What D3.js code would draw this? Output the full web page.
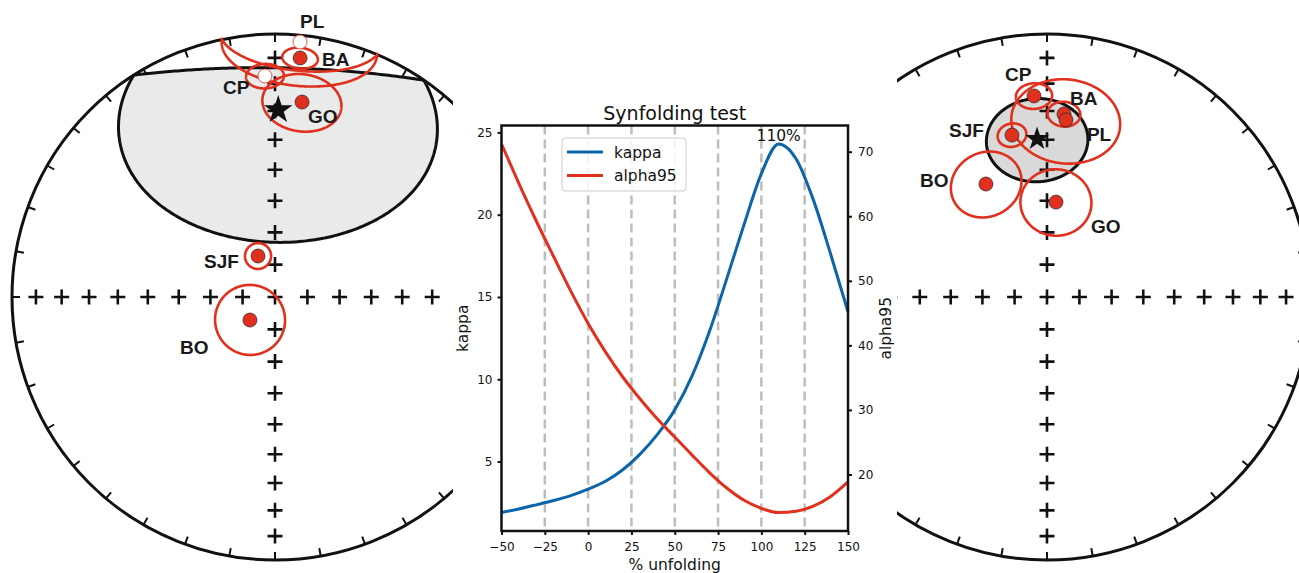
<!DOCTYPE html>
<html>
<head>
<meta charset="utf-8">
<script src="https://cdn.jsdelivr.net/npm/d3@7"></script>
<style>
  body { margin: 0; background: #fff; }
  svg { display: block; }
</style>
</head>
<body>
<svg id="fig" width="1299" height="573"></svg>
<script>
// ---- synfolding test curve ----
var unfolding = [-50, -40, -30, -20, -10, 0, 10, 20, 30, 40, 50, 60, 70, 80, 90, 100, 110, 120, 130, 140, 150];
var kappa = [1.9, 2.12, 2.37, 2.63, 2.93, 3.32, 3.8, 4.5, 5.45, 6.65, 8.14, 10.2, 12.9, 16.1, 19.4, 22.5, 24.3, 23.4, 20.9, 17.6, 14.1];
var alpha95 = [71.2, 65.1, 59.3, 53.8, 48.4, 43.4, 39.0, 35.1, 31.7, 28.6, 25.8, 23.0, 20.3, 17.9, 16.0, 14.75, 14.1, 14.3, 15.1, 16.6, 18.85];
var xTicks = [-50, -25, 0, 25, 50, 75, 100, 125, 150];
var kappaTicks = [5, 10, 15, 20, 25];
var alphaTicks = [20, 30, 40, 50, 60, 70];
var dashedAt = [-25, 0, 25, 50, 75, 100, 125];
var peakLabel = "110%";

// ---- site mean directions ----
var siteNames = ["BA", "PL", "CP", "GO", "SJF", "BO"];
// geographic coordinates (left net); negative inc = upper hemisphere
var geoDec = [6.0, 5.6, 357.4, 7.9, 337.5, 227.4];
var geoInc = [9.5, -2.9, -17.0, 26.1, 76.3, 79.5];
var geoA95 = [4.2, 17.5, 4.7, 10.4, 4.0, 10.8];
var geoMean = [1.0, 29.6, 43.5]; // dec, inc, a95
// tilt corrected (right net)
var tiltDec = [5.3, 6.1, 356.3, 5.4, 347.8, 331.6];
var tiltInc = [30.8, 32.8, 24.4, 60.3, 37.1, 49.6];
var tiltA95 = [4.4, 14.8, 4.7, 10.6, 4.0, 10.5];
var tiltMean = [356.4, 39.6, 14.2];

var red = "#e0301e";
var blue = "#0b65aa";
var rad = Math.PI / 180;

var svg = d3.select("#fig");

function eqArea(dec, inc) {
  var r = Math.SQRT2 * Math.sin((90 - Math.abs(inc)) / 2 * rad);
  return [r * Math.sin(dec * rad), r * Math.cos(dec * rad)];
}

function drawNet(cx, cy, R, net) {
  var x = d3.scaleLinear().domain([-1, 1]).range([cx - R, cx + R]);
  var y = d3.scaleLinear().domain([-1, 1]).range([cy + R, cy - R]);
  var px = function(dec, inc) {
    var p = eqArea(dec, inc);
    return [x(p[0]), y(p[1])];
  };
  var ring = function(dec, inc, a) {
    return d3.geoCircle().center([dec, inc]).radius(a).precision(1)()
      .coordinates[0].map(function(c) { return px(c[0], c[1]); });
  };
  var line = d3.line().curve(d3.curveLinearClosed);
  var g = svg.append("g");

  // primitive circle + azimuth ticks
  g.append("circle")
    .attr("cx", cx).attr("cy", cy).attr("r", R)
    .attr("fill", "none").attr("stroke", "#111").attr("stroke-width", 3);

  var k = 1 - 8 / R;
  g.selectAll("line.az")
    .data(d3.range(0, 360, 10))
    .enter().append("line")
    .attr("x1", function(d) { return x(Math.sin(d * rad)); })
    .attr("y1", function(d) { return y(Math.cos(d * rad)); })
    .attr("x2", function(d) { return x(k * Math.sin(d * rad)); })
    .attr("y2", function(d) { return y(k * Math.cos(d * rad)); })
    .attr("stroke", "#111").attr("stroke-width", 2);

  // mean confidence region
  g.append("path")
    .attr("d", line(ring(net.mean[0], net.mean[1], net.mean[2])))
    .attr("fill", net.fill).attr("stroke", "#111").attr("stroke-width", 3);

  // inclination crosses along the axes
  var crosses = [[0, 90]];
  [0, 90, 180, 270].forEach(function(d) {
    d3.range(10, 90, 10).forEach(function(i) { crosses.push([d, i]); });
  });
  g.selectAll("path.cross")
    .data(crosses)
    .enter().append("path")
    .attr("transform", function(d) { return "translate(" + px(d[0], d[1]) + ")"; })
    .attr("d", "M-7.5,0H7.5M0,-7.5V7.5")
    .attr("stroke", "#111").attr("stroke-width", 2.6);

  // a95 circles
  g.selectAll("path.a95")
    .data(siteNames)
    .enter().append("path")
    .attr("d", function(d, i) { return line(ring(net.dec[i], net.inc[i], net.a95[i])); })
    .attr("fill", "none").attr("stroke", red).attr("stroke-width", 2.6);

  // site means
  g.selectAll("circle.site")
    .data(siteNames)
    .enter().append("circle")
    .attr("cx", function(d, i) { return px(net.dec[i], net.inc[i])[0]; })
    .attr("cy", function(d, i) { return px(net.dec[i], net.inc[i])[1]; })
    .attr("r", 7)
    .attr("fill", function(d, i) { return net.inc[i] < 0 ? "#fff" : red; })
    .attr("stroke", function(d, i) { return net.inc[i] < 0 ? red : "#222"; })
    .attr("stroke-width", function(d, i) { return net.inc[i] < 0 ? 0.8 : 0.7; });

  // overall mean
  g.append("path")
    .attr("transform", "translate(" + px(net.mean[0], net.mean[1]) + ")")
    .attr("d", d3.symbol().type(d3.symbolStar).size(net.star * net.star / 0.8908)())
    .attr("fill", "#111");

  // labels
  g.selectAll("text.site")
    .data(siteNames)
    .enter().append("text")
    .attr("x", function(d, i) { return px(net.dec[i], net.inc[i])[0] + net.labels[i][0]; })
    .attr("y", function(d, i) { return px(net.dec[i], net.inc[i])[1] + net.labels[i][1]; })
    .attr("font-family", "Liberation Sans, Arial, sans-serif")
    .attr("font-weight", "bold")
    .attr("font-size", 19)
    .attr("fill", "#1a1a1a")
    .text(function(d) { return d; });
}

drawNet(275, 297, 263, {
  dec: geoDec, inc: geoInc, a95: geoA95, mean: geoMean,
  fill: "#e9ebeb", star: 15,
  labels: [[22, 8], [0, -14], [-42, 18], [6, 21], [-54, 12], [-70, 34]]
});

drawNet(1047, 297, 263, {
  dec: tiltDec, inc: tiltInc, a95: tiltA95, mean: tiltMean,
  fill: "#d9d9d9", star: 12.5,
  labels: [[6, -9], [21, 21], [-29, -15], [35, 31], [-63, 2], [-66, 3]]
});

// ---- middle panel ----
svg.append("rect")
  .attr("x", 453).attr("y", 0).attr("width", 444).attr("height", 573)
  .attr("fill", "#fff");

var pLeft = 501.5, pRight = 848, pTop = 125.5, pBottom = 531;
var pad = function(e) { var m = (e[1] - e[0]) * 0.05; return [e[0] - m, e[1] + m]; };

var x = d3.scaleLinear().domain([-50, 150]).range([pLeft, pRight]);
var yK = d3.scaleLinear().domain(pad(d3.extent(kappa))).range([pBottom, pTop]);
var yA = d3.scaleLinear().domain(pad(d3.extent(alpha95))).range([pBottom, pTop]);

var chart = svg.append("g");
var fontFam = "DejaVu Sans, sans-serif";

chart.selectAll("line.grid")
  .data(dashedAt)
  .enter().append("line")
  .attr("x1", function(d) { return x(d); })
  .attr("x2", function(d) { return x(d); })
  .attr("y1", pTop).attr("y2", pBottom)
  .attr("stroke", "#bdbdbd").attr("stroke-width", 2.5)
  .attr("stroke-dasharray", "9,5");

var kLine = d3.line()
  .x(function(d, i) { return x(unfolding[i]); })
  .y(function(d) { return yK(d); })
  .curve(d3.curveMonotoneX);
var aLine = d3.line()
  .x(function(d, i) { return x(unfolding[i]); })
  .y(function(d) { return yA(d); })
  .curve(d3.curveMonotoneX);

chart.append("path").attr("d", kLine(kappa))
  .attr("fill", "none").attr("stroke", blue).attr("stroke-width", 3);
chart.append("path").attr("d", aLine(alpha95))
  .attr("fill", "none").attr("stroke", red).attr("stroke-width", 3);

function styleAxis(sel) {
  sel.select(".domain").remove();
  sel.selectAll(".tick line").attr("stroke", "#111").attr("stroke-width", 2);
  sel.selectAll(".tick text").attr("font-family", fontFam).attr("font-size", 12).attr("fill", "#111");
}

var fmt = function(d) { return d < 0 ? "\u2212" + Math.abs(d) : String(d); };

chart.append("g").attr("transform", "translate(0," + pBottom + ")")
  .call(d3.axisBottom(x).tickValues(xTicks).tickSize(4).tickPadding(7).tickFormat(fmt))
  .call(styleAxis);
chart.append("g").attr("transform", "translate(" + pLeft + ",0)")
  .call(d3.axisLeft(yK).tickValues(kappaTicks).tickSize(4).tickPadding(5))
  .call(styleAxis);
chart.append("g").attr("transform", "translate(" + pRight + ",0)")
  .call(d3.axisRight(yA).tickValues(alphaTicks).tickSize(4).tickPadding(6))
  .call(styleAxis);

chart.append("rect")
  .attr("x", pLeft).attr("y", pTop)
  .attr("width", pRight - pLeft).attr("height", pBottom - pTop)
  .attr("fill", "none").attr("stroke", "#111").attr("stroke-width", 2.5);

// titles and labels
chart.append("text")
  .attr("x", (pLeft + pRight) / 2).attr("y", 120)
  .attr("text-anchor", "middle")
  .attr("font-family", fontFam).attr("font-size", 19).attr("fill", "#111")
  .text("Synfolding test");

chart.append("text")
  .attr("x", (pLeft + pRight) / 2).attr("y", 570)
  .attr("text-anchor", "middle")
  .attr("font-family", fontFam).attr("font-size", 15.5).attr("fill", "#111")
  .text("% unfolding");

chart.append("text")
  .attr("transform", "translate(468," + (pTop + pBottom) / 2 + ") rotate(-90)")
  .attr("text-anchor", "middle")
  .attr("font-family", fontFam).attr("font-size", 15.5).attr("fill", "#111")
  .text("kappa");

chart.append("text")
  .attr("transform", "translate(891," + (pTop + pBottom) / 2 + ") rotate(-90)")
  .attr("text-anchor", "middle")
  .attr("font-family", fontFam).attr("font-size", 15.5).attr("fill", "#111")
  .text("alpha95");

var peakIdx = d3.maxIndex(kappa);
chart.append("text")
  .attr("x", x(unfolding[peakIdx])).attr("y", yK(kappa[peakIdx]) - 3)
  .attr("text-anchor", "middle")
  .attr("font-family", fontFam).attr("font-size", 15.5).attr("fill", "#111")
  .text(peakLabel);

// legend
var legend = chart.append("g").attr("transform", "translate(562,138)");
legend.append("rect")
  .attr("width", 124).attr("height", 53).attr("rx", 3)
  .attr("fill", "#fff").attr("fill-opacity", 0.85)
  .attr("stroke", "#cccccc").attr("stroke-width", 1);
var legendItems = [["kappa", blue], ["alpha95", red]];
legend.selectAll("g.item")
  .data(legendItems)
  .enter().append("g")
  .attr("transform", function(d, i) { return "translate(0," + (14 + i * 23.5) + ")"; })
  .each(function(d) {
    var it = d3.select(this);
    it.append("line").attr("x1", 5).attr("x2", 41)
      .attr("stroke", d[1]).attr("stroke-width", 3);
    it.append("text").attr("x", 52).attr("y", 5.5)
      .attr("font-family", fontFam).attr("font-size", 15.5).attr("fill", "#111")
      .text(d[0]);
  });
</script>
</body>
</html>
